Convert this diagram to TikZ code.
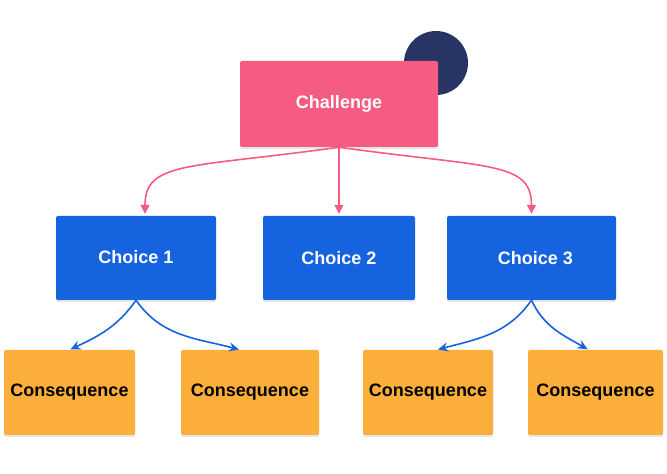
\documentclass[tikz,border=0pt]{standalone}
\usepackage{fontspec}
\setmainfont{Liberation Sans}
\usetikzlibrary{arrows.meta,shadows}
\definecolor{pinkbox}{HTML}{F65B82}
\definecolor{bluebox}{HTML}{1563DE}
\definecolor{orangebox}{HTML}{FCAE3A}
\definecolor{navydot}{HTML}{283463}
\tikzset{
	box/.style={rounded corners=2pt, inner sep=0pt, font=\fontsize{18}{21}\selectfont\bfseries,
		drop shadow={shadow xshift=0pt, shadow yshift=-2pt, opacity=0.2}},
	challengebox/.style={box, fill=pinkbox, text=white, minimum width=198pt, minimum height=86pt},
	choicebox/.style={box, fill=bluebox, text=white, minimum height=84pt},
	consbox/.style={box, fill=orangebox, text=black, minimum height=85pt},
	pinkarrow/.style={draw=pinkbox, line width=1.6pt, -{Triangle[length=9pt,width=9pt]}, shorten >=2pt},
	bluearrow/.style={draw=bluebox, line width=1.6pt, -{Stealth[length=10pt,width=9pt]}, shorten >=1pt}
}

\begin{document}
\begin{tikzpicture}[x=1pt,y=1pt]
		%%%%% START %%%%%
		\useasboundingbox (0,0) rectangle (667,474);
		
		\fill[navydot] (436,411) circle (32);
		\node[challengebox] (challenge) at (339,370) {Challenge};
		
		\node[choicebox, minimum width=160pt] (choiceA) at (136,216) {\raisebox{3pt}{Choice 1}};
		\node[choicebox, minimum width=152pt] (choiceB) at (339,216) {Choice 2};
		\node[choicebox, minimum width=169pt] (choiceC) at (531.5,216) {\hspace{8pt}Choice 3};
		
		\node[consbox, minimum width=131pt] (consA) at (69.5,81.5) {Consequence};
		\node[consbox, minimum width=138pt] (consB) at (250,81.5) {Consequence\hspace{8pt}};
		\node[consbox, minimum width=130pt] (consC) at (428,81.5) {Consequence};
		\node[consbox, minimum width=135pt] (consD) at (595.5,81.5) {Consequence};
		
		\draw[pinkarrow] (challenge.south) .. controls +(188:150) and +(90:55) .. ([xshift=9pt]choiceA.north);
		\draw[pinkarrow] (challenge.south) -- (choiceB.north);
		\draw[pinkarrow] (challenge.south) .. controls +(-8:150) and +(90:55) .. (choiceC.north);
		
		\draw[bluearrow] (choiceA.south) to[out=235, in=25] (consA.north);
		\draw[bluearrow] (choiceA.south) to[out=-55, in=165] ([xshift=-10pt]consB.north);
		\draw[bluearrow] (choiceC.south) to[out=235, in=15] ([xshift=9pt]consC.north);
		\draw[bluearrow] (choiceC.south) to[out=-65, in=150] ([xshift=-7pt]consD.north);
		%%%%% END %%%%%
\end{tikzpicture}
\end{document}
